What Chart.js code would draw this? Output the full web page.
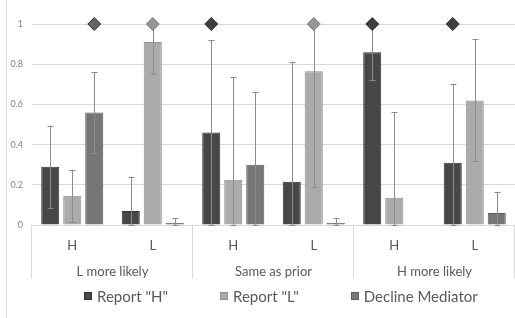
<!DOCTYPE html>
<html>
<head>
<meta charset="utf-8">
<script src="https://cdn.jsdelivr.net/npm/chart.js@4"></script>
<style>
html, body { margin: 0; padding: 0; background: #fff; }
#wrap { position: relative; width: 515px; height: 318px; }
#wrap:before { content: ''; position: absolute; left: 6px; top: 0; bottom: 0; border-left: 1px solid #d9d9d9; }
#legend { position: absolute; left: 84px; top: 286px; display: flex; gap: 52px; font: 15px Lato, sans-serif; color: #595959; white-space: nowrap; }
#legend span.item { display: flex; align-items: center; height: 20px; }
#legend i { display: inline-block; width: 8px; height: 8px; margin-right: 5px; box-sizing: border-box; border: 1px solid; }
</style>
</head>
<body>
<div id="wrap"><canvas id="myChart" width="515" height="318"></canvas><div id="legend"></div></div>
<script>
const myChart     = document.getElementById('myChart');
const subLabels   = ['H', 'L', 'H', 'L', 'H', 'L'];
const groupLabels = ['L more likely', 'Same as prior', 'H more likely'];
const yTicks      = [0, 0.2, 0.4, 0.6, 0.8, 1];

// bar heights
const reportH = [0.29, 0.07, 0.46, 0.215, 0.86, 0.31];
const reportL = [0.145, 0.91, 0.225, 0.765, 0.135, 0.62];
const decline = [0.56, 0.01, 0.30, 0.01, 0, 0.06];

// error bars (low / high)
const reportHLow  = [0.085, 0, 0, 0, 0.72, 0];
const reportHHigh = [0.495, 0.24, 0.92, 0.81, 1.0, 0.70];
const reportLLow  = [0.015, 0.75, 0, 0.19, 0, 0.32];
const reportLHigh = [0.275, 1.0, 0.735, 1.0, 0.56, 0.925];
const declineLow  = [0.36, 0, 0, 0, null, 0];
const declineHigh = [0.76, 0.035, 0.66, 0.035, null, 0.165];

// diamond markers
const sigH = [null, null, 1, null, 1, 1];
const sigL = [null, 1, null, 1, null, null];
const sigD = [1, null, null, null, null, null];

const errLow  = [reportHLow, reportLLow, declineLow];
const errHigh = [reportHHigh, reportLHigh, declineHigh];
const sigs    = [sigH, sigL, sigD];
const sigColors = ['#3f3f3f', '#969696', '#666666'];

const extras = {
    id: 'extras',
    afterDatasetsDraw(chart){
        const ctx = chart.ctx;
        const y = chart.scales.y;
        ctx.save();
        // error bars
        ctx.strokeStyle = '#8c8c8c';
        ctx.lineWidth = 1;
        for (let i = 0; i < 3; i++){
            const meta = chart.getDatasetMeta(i);
            meta.data.forEach((bar, j) => {
                const lo = errLow[i][j], hi = errHigh[i][j];
                if (lo === null || hi === null) return;
                const x = Math.round(bar.x) + 0.5;
                const y1 = y.getPixelForValue(lo), y2 = y.getPixelForValue(hi);
                ctx.beginPath();
                ctx.moveTo(x, y1); ctx.lineTo(x, y2);
                ctx.moveTo(x - 3, Math.round(y1) + 0.5); ctx.lineTo(x + 3, Math.round(y1) + 0.5);
                ctx.moveTo(x - 3, Math.round(y2) + 0.5); ctx.lineTo(x + 3, Math.round(y2) + 0.5);
                ctx.stroke();
            });
        }
        // diamonds
        for (let i = 0; i < 3; i++){
            const meta = chart.getDatasetMeta(i);
            meta.data.forEach((bar, j) => {
                const v = sigs[i][j];
                if (v === null) return;
                const x = bar.x, yy = y.getPixelForValue(v), r = 6.5;
                ctx.beginPath();
                ctx.moveTo(x, yy - r); ctx.lineTo(x + r, yy); ctx.lineTo(x, yy + r); ctx.lineTo(x - r, yy);
                ctx.closePath();
                ctx.fillStyle = sigColors[i];
                ctx.fill();
                ctx.strokeStyle = i === 1 ? '#7a7a7a' : '#2e2e2e';
                ctx.stroke();
            });
        }
        // group separators
        const xs = chart.scales.x;
        ctx.strokeStyle = '#d9d9d9';
        for (let k = 0; k <= 3; k++){
            const x = Math.round(xs.left + k * xs.width / 3) - 0.5;
            ctx.beginPath();
            ctx.moveTo(x, chart.chartArea.bottom);
            ctx.lineTo(x, chart.chartArea.bottom + 53);
            ctx.stroke();
        }
        ctx.restore();
    }
};

const lineChart = new Chart(myChart, {
    type: 'bar',
    data: {
        labels: subLabels,
        datasets: [
            { label: 'Report "H"', data: reportH, backgroundColor: '#474747', borderColor: '#333333', borderWidth: 1 },
            { label: 'Report "L"', data: reportL, backgroundColor: '#ababab', borderColor: '#8f8f8f', borderWidth: 1 },
            { label: 'Decline Mediator', data: decline, backgroundColor: '#767676', borderColor: '#5c5c5c', borderWidth: 1 }
        ]
    },
    options: {
        responsive: false,
        animation: false,
        layout: { padding: { top: 24, right: 0, left: 8, bottom: 36 } },
        datasets: { bar: { categoryPercentage: 0.82, barPercentage: 0.82 } },
        scales: {
            y: {
                min: 0, max: 1,
                afterBuildTicks(s){ s.ticks = yTicks.map(v => ({ value: v })); },
                afterFit(s){ s.width = 24; },
                grid: { color: '#d9d9d9', drawTicks: false },
                border: { display: false },
                ticks: { padding: 9, color: '#7f7f7f', font: { family: 'Lato', size: 9 }, callback: v => String(v) }
            },
            x: {
                grid: { display: false },
                border: { display: false },
                afterFit(s){ s.height = 31; },
                ticks: { padding: 5, color: '#595959', font: { family: 'Lato', size: 13 } }
            },
            x2: {
                type: 'category',
                labels: groupLabels,
                position: 'bottom',
                grid: { display: false },
                border: { display: false },
                afterFit(s){ s.height = 26; },
                ticks: { padding: 0, color: '#595959', font: { family: 'Lato', size: 13 } }
            }
        },
        plugins: {
            legend: { display: false },
            tooltip: { enabled: false }
        }
    },
    plugins: [extras]
});

// legend built from the datasets
const legendBox = document.getElementById('legend');
lineChart.data.datasets.forEach(ds => {
    const item = document.createElement('span');
    item.className = 'item';
    const sw = document.createElement('i');
    sw.style.background = ds.backgroundColor;
    sw.style.borderColor = ds.borderColor;
    item.appendChild(sw);
    item.appendChild(document.createTextNode(ds.label));
    legendBox.appendChild(item);
});
</script>
</body>
</html>
